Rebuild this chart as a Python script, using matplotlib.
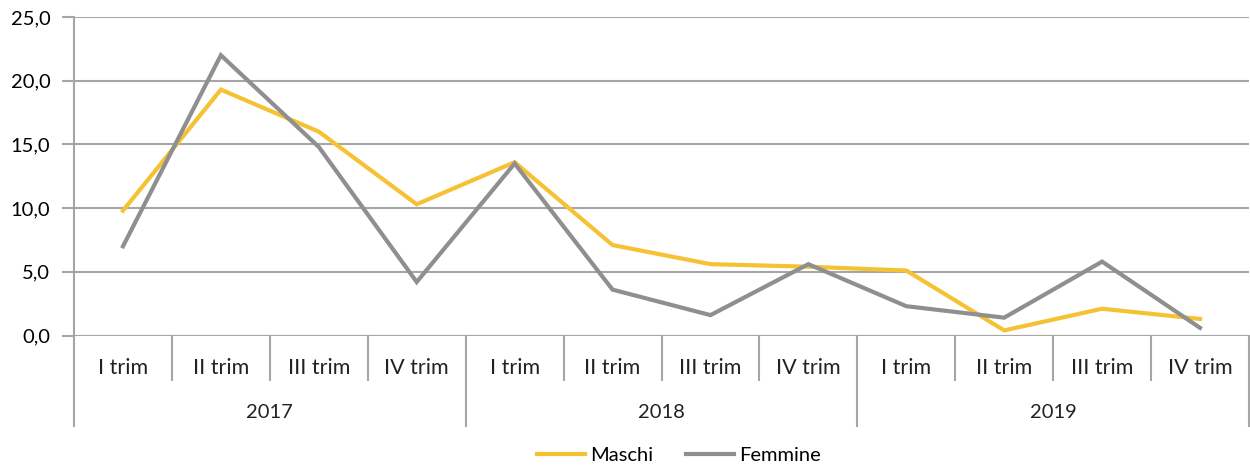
import matplotlib
matplotlib.use("Agg")
import matplotlib.pyplot as plt
import matplotlib.transforms as mtransforms

# Data
years = ["2017", "2018", "2019"]
quarters = ["I trim", "II trim", "III trim", "IV trim"]
maschi = [9.8, 19.3, 16.0, 10.3, 13.6, 7.1, 5.6, 5.4, 5.1, 0.4, 2.1, 1.3]
femmine = [7.0, 22.0, 14.8, 4.2, 13.5, 3.6, 1.6, 5.6, 2.3, 1.4, 5.8, 0.6]
yticks = [0, 5, 10, 15, 20, 25]

plt.rcParams["font.family"] = ["Lato", "DejaVu Sans"]

YELLOW = "#F5C233"
GRAY = "#8F8F8F"
GRID = "#A6A6A6"
FS = 14.5

fig = plt.figure(figsize=(12.5, 4.68), dpi=100)
ax = fig.add_axes([74 / 1250, 1 - 335.5 / 468, 1175 / 1250, 318.5 / 468])

x = list(range(len(maschi)))
ax.plot(x, maschi, color=YELLOW, lw=3, solid_joinstyle="miter", label="Maschi", zorder=3)
ax.plot(x, femmine, color=GRAY, lw=3, solid_joinstyle="miter", label="Femmine", zorder=4)

ax.set_xlim(-0.5, len(x) - 0.5)
ax.set_ylim(0, 25)
ax.set_yticks(yticks)
ax.set_yticklabels([f"{v:.1f}".replace(".", ",") for v in yticks], fontsize=FS)
ax.tick_params(axis="y", length=9, width=1.5, color=GRID, pad=8)
ax.set_xticks([])
ax.grid(axis="y", color=GRID, lw=1.5)
for s in ["top", "right", "bottom"]:
    ax.spines[s].set_visible(False)
ax.spines["left"].set_color(GRID)
ax.spines["left"].set_linewidth(1.5)
ax.axhline(0, color=GRID, lw=1.5, zorder=2)

# multi-level category axis
trans = mtransforms.blended_transform_factory(ax.transData, ax.transAxes)
px = 1 / 318.5  # one pixel in axes fraction (vertical)
n_q = len(quarters)
for i in range(len(x) + 1):
    xs = i - 0.5
    bottom = -90 * px if i % n_q == 0 else -44 * px
    ax.plot([xs, xs], [0, bottom], color=GRID, lw=1.5, transform=trans, clip_on=False)
for i in range(len(x)):
    ax.text(i, -32 * px, quarters[i % n_q], transform=trans, ha="center", va="center",
            fontsize=15.5, color="#222222")
for j, yr in enumerate(years):
    ax.text(j * n_q + (n_q - 1) / 2, -77 * px, yr, transform=trans, ha="center", va="center",
            fontsize=FS, color="#222222")

fig.legend(loc="center", bbox_to_anchor=(0.543, 1 - 455 / 468), ncol=2, frameon=False,
           fontsize=FS, handlelength=2.4, handletextpad=0.25, columnspacing=1.6)

fig.savefig("out.png", dpi=100)
